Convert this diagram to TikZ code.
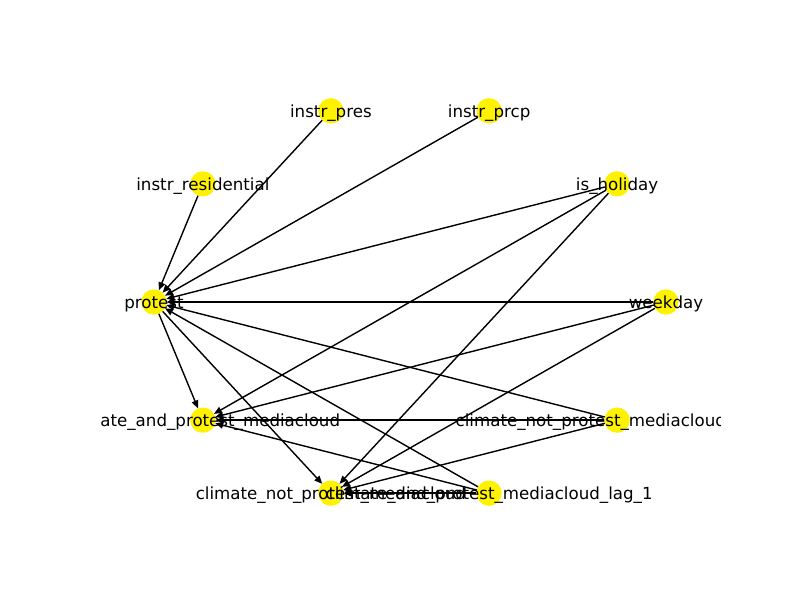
\documentclass[tikz,border=0pt]{standalone}
\usepackage{fontspec}
\setmainfont{DejaVu Sans}
\usepackage{tikz}
\usetikzlibrary{automata, arrows.meta, backgrounds}

\begin{document}
\begin{tikzpicture}[x=0.75pt,y=0.75pt,>={Triangle[length=6pt,width=5pt]},auto,
                    every edge/.append style={line width=1.05pt}]
\tikzstyle{every state}=[fill=yellow,draw=none,text=black,inner sep=0pt,minimum size=19pt,outer sep=0pt]
\tikzset{font=\fontsize{12.5pt}{15}\selectfont}
\useasboundingbox (-410,-298) rectangle (390,302);

        % circular layout, nodes at 36 degree steps
        \node[state]                (0) at (0:256 and 201)   {};
        \node[state]                (1) at (36:256 and 201)  {};
        \node[state]                (2) at (72:256 and 201)  {};
        \node[state]                (3) at (108:256 and 201) {};
        \node[state]                (4) at (144:256 and 201) {};
        \node[state]                (5) at (180:256 and 201) {};
        \node[state]                (6) at (216:256 and 201) {};
        \node[state]                (7) at (252:256 and 201) {};
        \node[state]                (8) at (288:256 and 201) {};
        \node[state]                (9) at (324:256 and 201) {};

        \begin{scope}[on background layer]
        \path[->]
        (4)   edge node {}            (5)
        (3)   edge node {}            (5)
        (2)   edge node {}            (5)
        (1)   edge node {}            (5)
        (0)   edge node {}            (5)
        (9)   edge node {}            (5)
        (8)   edge node {}            (5)
        (5)   edge node {}            (6)
        (1)   edge node {}            (6)
        (0)   edge node {}            (6)
        (9)   edge node {}            (6)
        (8)   edge node {}            (6)
        (5)   edge node {}            (7)
        (1)   edge node {}            (7)
        (0)   edge node {}            (7)
        (9)   edge node {}            (7)
        (8)   edge node {}            (7)
        ; %end path
        \end{scope}

        % labels, cut off at the axes frame
        \begin{scope}[every node/.style={inner sep=0pt,yshift=-1.5pt}]
        \clip (-310,-232) rectangle (310,230);
        \node        (p0) at (0) {weekday};
        \node        (p1) at (1) {is\_holiday};
        \node        (p2) at (2) {instr\_prcp};
        \node        (p3) at (3) {instr\_pres};
        \node        (p4) at (4) {instr\_residential};
        \node        (p5) at (5) {protest};
        \node        (p6) at (6) {climate\_and\_protest\_mediacloud};
        \node        (p7) at (7) {climate\_not\_protest\_mediacloud};
        \node        (p8) at (8) {climate\_and\_protest\_mediacloud\_lag\_1};
        \node        (p9) at (9) {climate\_not\_protest\_mediacloud\_lag\_1};
        \end{scope}

\end{tikzpicture}
\end{document}
